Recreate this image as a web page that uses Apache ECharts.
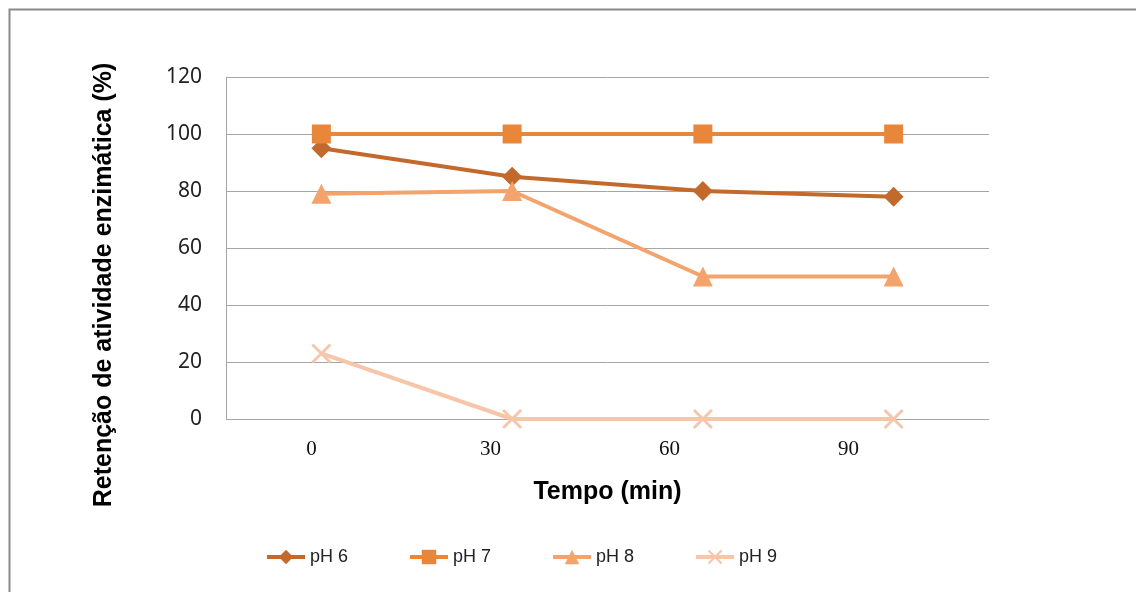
<!DOCTYPE html>
<html>
<head>
<meta charset="utf-8">
<script src="https://cdn.jsdelivr.net/npm/echarts@6/dist/echarts.min.js"></script>
<style>
  html, body { margin: 0; padding: 0; background: #ffffff; }
  #chart { width: 1136px; height: 592px; }
</style>
</head>
<body>
<div id="chart"></div>
<script>
// Time points (min) and enzyme activity retention (%) for each pH
const tempos = ['0', '30', '60', '90'];
const ph6 = [95, 85, 80, 78];
const ph7 = [100, 100, 100, 100];
const ph8 = [79, 80, 50, 50];
const ph9 = [23, 0, 0, 0];
const seriesNames = ['pH 6', 'pH 7', 'pH 8', 'pH 9'];

const colors = ['#c2692b', '#e8873a', '#f3a36c', '#f7c5a8'];
// thin "x" marker drawn as two filled bars
const crossPath = 'path://M0,1L1,0L10,9L9,10Z M9,0L10,1L1,10L0,9Z';

function lineSeries(name, data, color, symbol, size) {
  return {
    name: name,
    type: 'line',
    xAxisIndex: 0,
    yAxisIndex: 0,
    data: data,
    symbol: symbol,
    symbolSize: size,
    showAllSymbol: true,
    lineStyle: { color: color, width: 4 },
    itemStyle: { color: color },
    emphasis: { disabled: true },
    animation: false
  };
}

const chart = echarts.init(document.getElementById('chart'));
chart.setOption({
  backgroundColor: '#ffffff',
  animation: false,
  graphic: [{
    type: 'rect',
    shape: { x: 9.5, y: 9.5, width: 1200, height: 700 },
    style: { fill: 'none', stroke: '#8a8a8a', lineWidth: 2 },
    silent: true
  }],
  grid: [
    // plot area
    { left: 226, right: 147, top: 77, bottom: 173 },
    // band carrying the time tick labels
    { left: 222, width: 716, top: 77, bottom: 173 }
  ],
  legend: {
    top: 548,
    left: 265,
    padding: 0,
    itemWidth: 38,
    itemHeight: 18,
    itemGap: 60,
    lineStyle: { width: 4 },
    textStyle: { fontFamily: 'Liberation Sans', fontSize: 18, color: '#222' },
    data: seriesNames
  },
  xAxis: [{
    type: 'category',
    gridIndex: 0,
    data: tempos,
    boundaryGap: true,
    name: 'Tempo (min)',
    nameLocation: 'middle',
    nameGap: 61,
    nameTextStyle: { fontFamily: 'Liberation Sans', fontWeight: 'bold', fontSize: 25, color: '#000' },
    axisLine: { show: false },
    axisTick: { show: false },
    axisLabel: { show: false }
  }, {
    type: 'category',
    gridIndex: 1,
    data: tempos,
    boundaryGap: true,
    axisLine: { show: false },
    axisTick: { show: false },
    axisLabel: { fontFamily: 'Liberation Serif', fontSize: 21, color: '#111', margin: 20 }
  }],
  yAxis: [{
    type: 'value',
    gridIndex: 0,
    min: 0,
    max: 120,
    interval: 20,
    name: 'Retenção de atividade enzimática (%)',
    nameLocation: 'middle',
    nameGap: 109,
    nameTextStyle: {
      fontFamily: 'Liberation Sans', fontWeight: 'bold', fontSize: 25, color: '#000',
      padding: [0, 74, 0, 0]
    },
    axisLine: { show: true, lineStyle: { color: '#a6a6a6', width: 1 } },
    axisTick: { show: false },
    axisLabel: { fontFamily: 'Noto Sans', fontSize: 21, color: '#222', margin: 24 },
    splitLine: { show: true, lineStyle: { color: '#a6a6a6', width: 1 } }
  }, {
    type: 'value',
    gridIndex: 1,
    min: 0,
    max: 120,
    show: false
  }],
  series: [
    lineSeries(seriesNames[0], ph6, colors[0], 'diamond', 20),
    lineSeries(seriesNames[1], ph7, colors[1], 'rect', 19),
    lineSeries(seriesNames[2], ph8, colors[2], 'triangle', 20),
    lineSeries(seriesNames[3], ph9, colors[3], crossPath, 20)
  ]
});
</script>
</body>
</html>
